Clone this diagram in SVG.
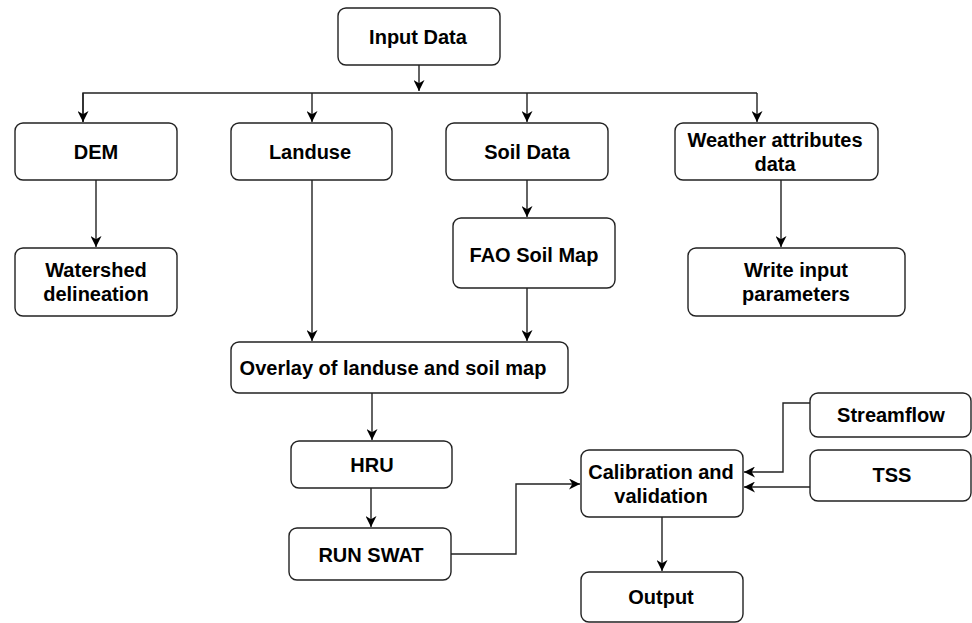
<svg xmlns="http://www.w3.org/2000/svg" width="972" height="623" viewBox="0 0 972 623">
<style>
.box{fill:#fff;stroke:#222;stroke-width:1.4}
.t{font-family:"Liberation Sans",Arial,sans-serif;font-weight:bold;font-size:20px;fill:#000;text-anchor:middle}
.c{fill:none;stroke:#222;stroke-width:1.4}
</style>
<defs>
<marker id="ah" viewBox="0 0 10 10" refX="10" refY="5" markerWidth="11" markerHeight="11" markerUnits="userSpaceOnUse" orient="auto">
<path d="M0,0 L10,5 L0,10 L3,5 Z" fill="#000"/>
</marker>
</defs>
<rect width="972" height="623" fill="#fff"/>
<g id="connectors">
<path class="c" d="M419,65 V91" marker-end="url(#ah)"/>
<path class="c" d="M83,122 V93 H757"/>
<path class="c" d="M83,93 V122" marker-end="url(#ah)"/>
<path class="c" d="M757,93 V122" marker-end="url(#ah)"/>
<path class="c" d="M312,93 V122" marker-end="url(#ah)"/>
<path class="c" d="M527,93 V122" marker-end="url(#ah)"/>
<path class="c" d="M96,180 V247" marker-end="url(#ah)"/>
<path class="c" d="M312,180 V341" marker-end="url(#ah)"/>
<path class="c" d="M527,180 V217" marker-end="url(#ah)"/>
<path class="c" d="M781,180 V247" marker-end="url(#ah)"/>
<path class="c" d="M527,288 V341" marker-end="url(#ah)"/>
<path class="c" d="M372,393 V440" marker-end="url(#ah)"/>
<path class="c" d="M371,488 V527" marker-end="url(#ah)"/>
<path class="c" d="M451,554 H516 V484 H580" marker-end="url(#ah)"/>
<path class="c" d="M810,403 H783 V472 H744" marker-end="url(#ah)"/>
<path class="c" d="M810,487 H744" marker-end="url(#ah)"/>
<path class="c" d="M662,517 V571" marker-end="url(#ah)"/>
</g>
<g id="input-data"><rect class="box" x="338" y="8" width="162" height="57" rx="8"/><text class="t" x="418" y="44">Input Data</text></g>
<g id="dem"><rect class="box" x="15" y="123" width="162" height="57" rx="8"/><text class="t" x="96" y="159">DEM</text></g>
<g id="landuse"><rect class="box" x="231" y="123" width="161" height="57" rx="8"/><text class="t" x="310" y="159">Landuse</text></g>
<g id="soil-data"><rect class="box" x="446" y="123" width="162" height="57" rx="8"/><text class="t" x="527" y="159">Soil Data</text></g>
<g id="weather"><rect class="box" x="675" y="123" width="203" height="57" rx="8"/><text class="t" x="775" y="147">Weather attributes</text><text class="t" x="775" y="171">data</text></g>
<g id="watershed"><rect class="box" x="15" y="248" width="162" height="68" rx="8"/><text class="t" x="96" y="277">Watershed</text><text class="t" x="96" y="301">delineation</text></g>
<g id="fao"><rect class="box" x="453" y="218" width="162" height="70" rx="8"/><text class="t" x="534" y="262">FAO Soil Map</text></g>
<g id="write-input"><rect class="box" x="688" y="248" width="217" height="68" rx="8"/><text class="t" x="796" y="277">Write input</text><text class="t" x="796" y="301">parameters</text></g>
<g id="overlay"><rect class="box" x="231" y="342" width="337" height="51" rx="8"/><text class="t" x="393" y="375">Overlay of landuse and soil map</text></g>
<g id="hru"><rect class="box" x="291" y="441" width="161" height="47" rx="8"/><text class="t" x="372" y="472">HRU</text></g>
<g id="run-swat"><rect class="box" x="289" y="528" width="162" height="52" rx="8"/><text class="t" x="371" y="562">RUN SWAT</text></g>
<g id="calibration"><rect class="box" x="581" y="450" width="162" height="67" rx="8"/><text class="t" x="661" y="479">Calibration and</text><text class="t" x="661" y="503">validation</text></g>
<g id="streamflow"><rect class="box" x="810" y="393" width="161" height="44" rx="8"/><text class="t" x="891" y="422">Streamflow</text></g>
<g id="tss"><rect class="box" x="810" y="450" width="161" height="51" rx="8"/><text class="t" x="892" y="482">TSS</text></g>
<g id="output"><rect class="box" x="581" y="572" width="162" height="50" rx="8"/><text class="t" x="661" y="604">Output</text></g>
</svg>
